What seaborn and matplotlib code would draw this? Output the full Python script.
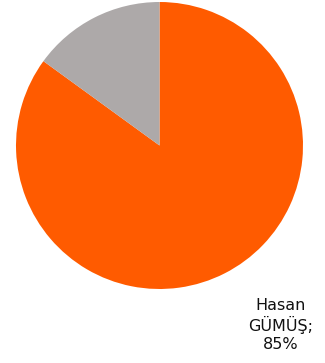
import matplotlib
matplotlib.use("Agg")
import matplotlib.pyplot as plt
import seaborn as sns

labels = ["Hasan GÜMÜŞ", "Diğer"]
values = [85, 15]
colors = ["#FF5B00", "#ADA9A9"]

sns.set_theme(style="white")
plt.rcParams['font.family'] = ['DejaVu Sans']

W, H = 325, 363
fig = plt.figure(figsize=(W / 100, H / 100), dpi=100)
fig.patch.set_facecolor("white")

cx, cy, r = 159.5, 145.5, 143.5
ax = fig.add_axes([(cx - r) / W, 1 - (cy + r) / H, 2 * r / W, 2 * r / H])
ax.pie(values, colors=colors, startangle=90, counterclock=False,
       radius=1, wedgeprops=dict(linewidth=0))
ax.set_xlim(-1, 1)
ax.set_ylim(-1, 1)
ax.set_aspect("equal")
ax.axis("off")

fig.text(281 / W, 1 - 325 / H, f"Hasan\nGÜMÜŞ;\n{values[0]}%",
         ha="center", va="center", fontsize=11.5, color="#111111",
         linespacing=1.2, multialignment="center")

fig.savefig("out.png", dpi=100, facecolor="white")
